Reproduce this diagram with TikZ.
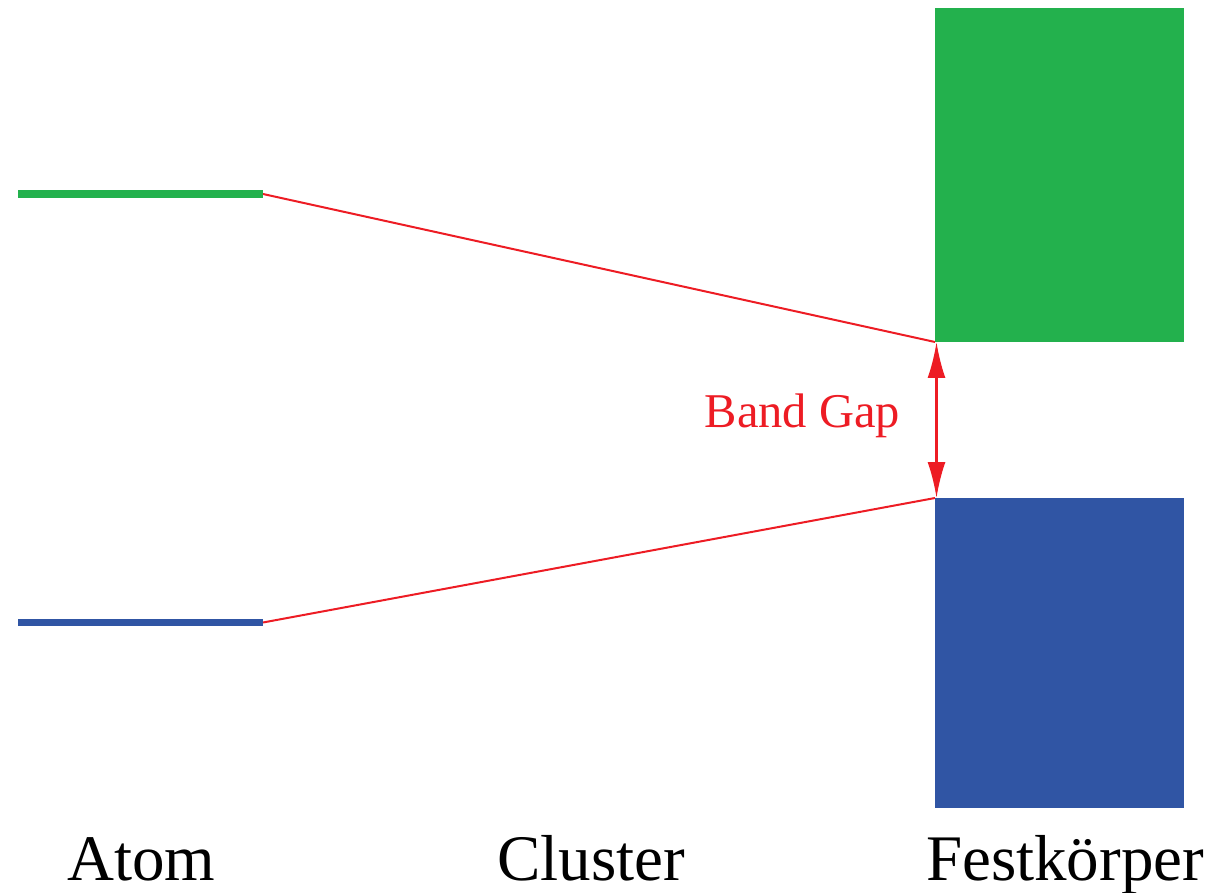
\documentclass[tikz,border=0pt]{standalone}
\usepackage{fontspec}
\setmainfont{Liberation Serif}
\usetikzlibrary{arrows.meta}
\definecolor{bandgreen}{RGB}{35,177,77}
\definecolor{bandblue}{RGB}{48,85,164}
\definecolor{gapred}{RGB}{237,28,36}
\begin{document}
\begin{tikzpicture}[x=1pt,y=-1pt,
  level/.style={line width=7.5pt},
  band/.style={draw=none, inner sep=0pt, outer sep=0pt, anchor=north west},
  link/.style={gapred, line width=2pt},
  caption/.style={anchor=base, inner sep=0pt, font=\fontsize{65}{78}\selectfont},
  gaplabel/.style={anchor=base, inner sep=0pt, text=gapred, font=\fontsize{48.5}{58}\selectfont}]
\useasboundingbox (0,0) rectangle (1211,893);

% atomic levels
\coordinate (ca) at (18,194);
\coordinate (cb) at (263,194);
\coordinate (va) at (18,622.5);
\coordinate (vb) at (263,622.5);
\draw[level, bandgreen] (ca) -- (cb);
\draw[level, bandblue] (va) -- (vb);

% solid-state bands
\node[band, fill=bandgreen, minimum width=249pt, minimum height=334pt] (cband) at (935,8) {};
\node[band, fill=bandblue, minimum width=249pt, minimum height=310pt] (vband) at (935,498) {};

% level broadening towards the solid
\draw[link] (cb) -- (cband.south west);
\draw[link] (vb) -- (vband.north west);

% band gap arrow
\draw[gapred, line width=2.5pt, {Latex[length=36pt,width=18pt]}-{Latex[length=36pt,width=18pt]}]
  ([xshift=1.5pt]cband.south west) -- ([xshift=1.5pt]vband.north west);
\node[gaplabel] (gap) at (802.5,428) {Band Gap};

% captions
\node[caption] (atom) at (141.5,880) {Atom};
\node[caption] (cluster) at (591,880) {Cluster};
\node[caption] (solid) at (1065,880) {Festkörper};
\end{tikzpicture}
\end{document}
